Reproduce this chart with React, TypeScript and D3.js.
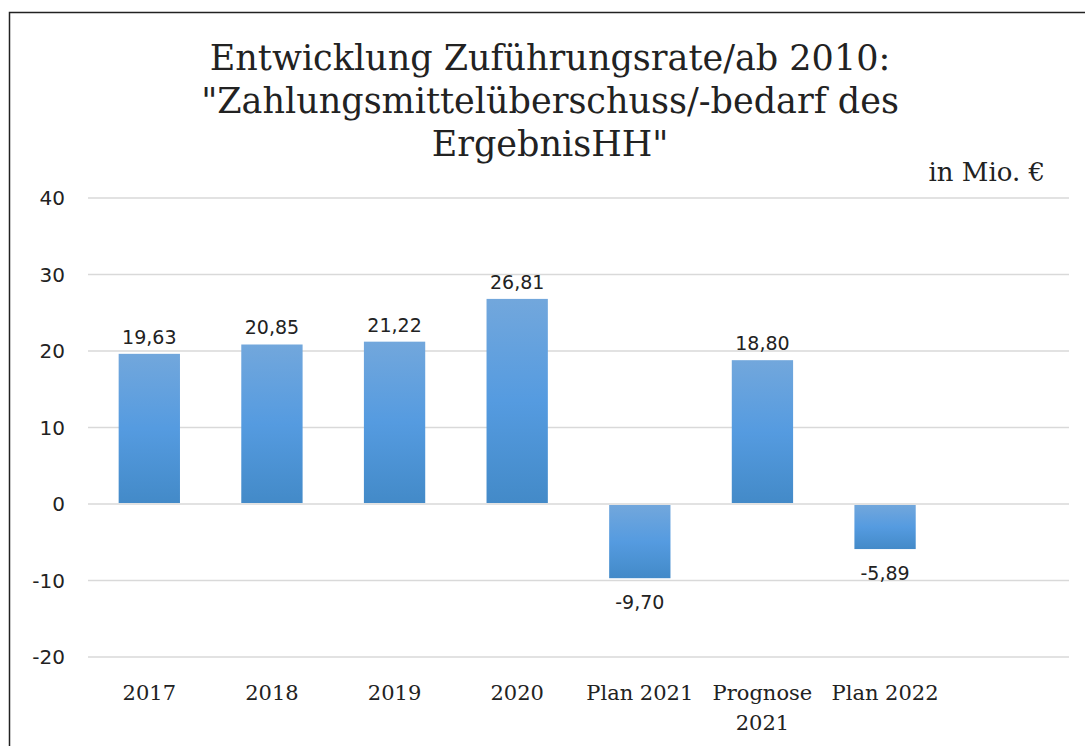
import React, { useEffect, useRef } from "react";
import * as d3 from "d3";

const categories = ["2017", "2018", "2019", "2020", "Plan 2021", "Prognose\n2021", "Plan 2022", ""];
const values = [19.63, 20.85, 21.22, 26.81, -9.7, 18.8, -5.89, null];
const yTicks = [-20, -10, 0, 10, 20, 30, 40];
const titleLines = ["Entwicklung Zuführungsrate/ab 2010:", "\"Zahlungsmittelüberschuss/-bedarf des", "ErgebnisHH\""];

function App() {
    const ref = useRef<SVGSVGElement>(null);

    let width = 1085;
    let height = 746;
    let plot = { left: 88, right: 1069, top: 198, bottom: 657 };

    let serif = "'DejaVu Serif', serif";
    let sans = "'DejaVu Sans', sans-serif";
    let textColor = "#222";

    useEffect(() => {
        let svg = d3.select(ref.current);
        svg.selectAll("*").remove();

        let defs = svg.append("defs");
        let grad = defs
            .append("linearGradient")
            .attr("id", "barGrad")
            .attr("x1", 0)
            .attr("y1", 0)
            .attr("x2", 0)
            .attr("y2", 1);
        grad.append("stop").attr("offset", "0%").attr("stop-color", "#72a7dc");
        grad.append("stop").attr("offset", "50%").attr("stop-color", "#559be0");
        grad.append("stop").attr("offset", "100%").attr("stop-color", "#438ac8");

        // frame
        svg.append("rect")
            .attr("x", 9.5)
            .attr("y", 12.5)
            .attr("width", 1200)
            .attr("height", 1000)
            .attr("fill", "white")
            .attr("stroke", "#222")
            .attr("stroke-width", 1.5);

        let x = d3
            .scaleBand()
            .domain(categories.map((c, i) => String(i)))
            .range([plot.left, plot.right])
            .paddingInner(0.5)
            .paddingOuter(0.25);

        let y = d3.scaleLinear().domain([-20, 40]).range([plot.bottom, plot.top]);

        // gridlines
        svg.selectAll(".grid")
            .data(yTicks)
            .enter()
            .append("line")
            .attr("x1", plot.left)
            .attr("x2", plot.right)
            .attr("y1", (d) => y(d))
            .attr("y2", (d) => y(d))
            .attr("stroke", "#d9d9d9")
            .attr("stroke-width", 1.5);

        svg.selectAll(".ytick")
            .data(yTicks)
            .enter()
            .append("text")
            .attr("x", 65)
            .attr("y", (d) => y(d) + 7)
            .attr("text-anchor", "end")
            .style("font-family", sans)
            .style("font-size", "20px")
            .style("fill", textColor)
            .text((d) => String(d));

        let data = values
            .map((v, i) => ({ v, i }))
            .filter((d) => d.v !== null) as { v: number; i: number }[];

        svg.selectAll(".bar")
            .data(data)
            .enter()
            .append("rect")
            .attr("x", (d) => x(String(d.i))!)
            .attr("width", x.bandwidth())
            .attr("y", (d) => (d.v >= 0 ? y(d.v) : y(0) + 1))
            .attr("height", (d) => Math.abs(y(d.v) - y(0)) - 1)
            .attr("fill", "url(#barGrad)");

        svg.selectAll(".label")
            .data(data)
            .enter()
            .append("text")
            .attr("x", (d) => x(String(d.i))! + x.bandwidth() / 2)
            .attr("y", (d) => (d.v >= 0 ? y(d.v) - 10 : y(d.v) + 31))
            .attr("text-anchor", "middle")
            .style("font-family", sans)
            .style("font-size", "19px")
            .style("fill", textColor)
            .text((d) => d.v.toFixed(2).replace(".", ","));

        // category labels
        categories.forEach((c, i) => {
            let t = svg
                .append("text")
                .attr("x", x(String(i))! + x.bandwidth() / 2)
                .attr("y", 700)
                .attr("text-anchor", "middle")
                .style("font-family", serif)
                .style("font-size", "21px")
                .style("fill", textColor);
            c.split("\n").forEach((line, j) => {
                t.append("tspan")
                    .attr("x", x(String(i))! + x.bandwidth() / 2)
                    .attr("dy", j === 0 ? 0 : 30)
                    .text(line);
            });
        });

        // title
        titleLines.forEach((line, i) => {
            svg.append("text")
                .attr("x", 550)
                .attr("y", 70 + i * 43)
                .attr("text-anchor", "middle")
                .style("font-family", serif)
                .style("font-size", "35px")
                .style("fill", textColor)
                .text(line);
        });

        svg.append("text")
            .attr("x", 1045)
            .attr("y", 181)
            .attr("text-anchor", "end")
            .style("font-family", serif)
            .style("font-size", "26px")
            .style("fill", textColor)
            .text("in Mio. €");
    }, []);

    return (
        <svg
            ref={ref}
            width={width}
            height={height}
            style={{ position: "absolute", left: 0, top: 0, background: "white" }}
        ></svg>
    );
}

export default App;
